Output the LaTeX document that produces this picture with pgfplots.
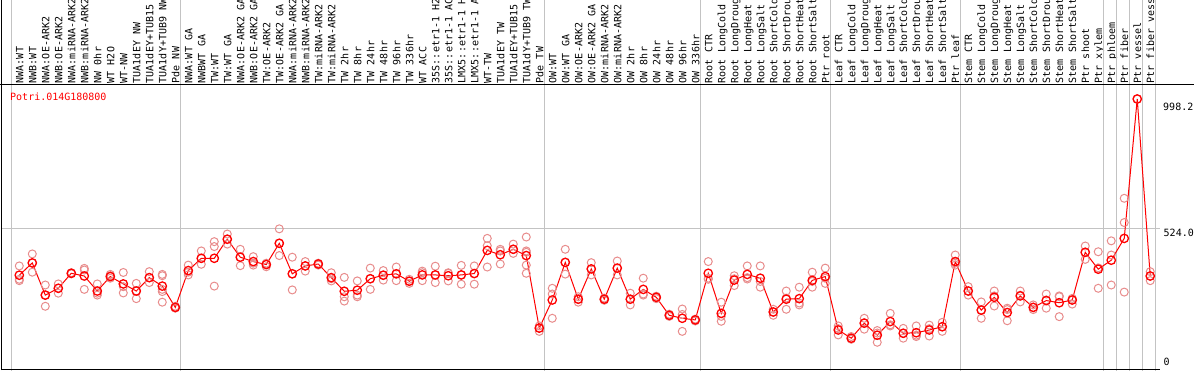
\documentclass[border=0pt]{standalone}
\usepackage{pgfplots}
\pgfplotsset{compat=1.18}
\usepackage{fontspec}
\newfontfamily\mono{DejaVu Sans Mono}
\definecolor{rep}{RGB}{232,140,140}
\definecolor{gridc}{RGB}{195,195,195}
\begin{document}
\begin{tikzpicture}[x=1bp,y=1bp]
\useasboundingbox (0,0) rectangle (1194,370);
\clip (0,0) rectangle (1194,370);
\begin{axis}[
  scale only axis, width=1158.5bp, height=284.3bp,
  at={(1.5bp,1bp)}, anchor=south west,
  xmin=-0.369, xmax=88.75, ymin=8, ymax=1050.6,
  axis line style={draw=none},
  clip=false,
  xtick={1,...,88},
  xticklabels={{NWA:WT},{NWB:WT},{NWA:OE-ARK2},{NWB:OE-ARK2},{NWA:miRNA-ARK2},{NWB:miRNA-ARK2},{NW 0hr},{WT H2O},{WT-NW},{TUA1dEY NW},{TUA1dEY+TUB15 NW},{TUA1dY+TUB9 NW},{Pde NW},
  {NWA:WT GA},{NWBWT GA},{TW:WT},{TW:WT GA},{NWA:OE-ARK2 GA},{NWB:OE-ARK2 GA},{TW:OE-ARK2},{TW:OE-ARK2 GA},{NWA:miRNA-ARK2},{NWB:miRNA-ARK2},{TW:miRNA-ARK2},{TW:miRNA-ARK2},{TW 2hr},{TW 8hr},{TW 24hr},{TW 48hr},{TW 96hr},{TW 336hr},{WT ACC},{35S::etr1-1 H2O},{35S::etr1-1 ACC},{LMX5::etr1-1 H2O},{LMX5::etr1-1 ACC},{WT-TW},{TUA1dEY TW},{TUA1dEY+TUB15 TW},{TUA1dY+TUB9 TW},{Pde TW},
  {OW:WT},{OW:WT GA},{OW:OE-ARK2},{OW:OE-ARK2 GA},{OW:miRNA-ARK2},{OW:miRNA-ARK2},{OW 2hr},{OW 8hr},{OW 24hr},{OW 48hr},{OW 96hr},{OW 336hr},
  {Root CTR},{Root LongCold},{Root LongDrought},{Root LongHeat},{Root LongSalt},{Root ShortCold},{Root ShortDrought},{Root ShortHeat},{Root ShortSalt},{Ptr root},
  {Leaf CTR},{Leaf LongCold},{Leaf LongDrought},{Leaf LongHeat},{Leaf LongSalt},{Leaf ShortCold},{Leaf ShortDrought},{Leaf ShortHeat},{Leaf ShortSalt},{Ptr leaf},
  {Stem CTR},{Stem LongCold},{Stem LongDrought},{Stem LongHeat},{Stem LongSalt},{Stem ShortCold},{Stem ShortDrought},{Stem ShortHeat},{Stem ShortSalt},{Ptr shoot},{Ptr xylem},{Ptr phloem},{Ptr fiber},{Ptr vessel},{Ptr fiber vessel}},
  xticklabel pos=right,
  xticklabel style={rotate=90, anchor=west, inner sep=0pt, text height=8bp, text depth=0pt, font=\mono\fontsize{10bp}{12bp}\selectfont},
  xticklabel shift=1.4bp,
  major tick length=0pt,
  ytick={524}, yticklabels={}, ymajorgrids,
  grid style={gridc, line width=1bp},
]
\pgfplotsinvokeforeach{0.37,13.37,41.37,53.37,63.37,73.37,84.37,85.37,86.37,87.37,88.37}{
  \draw[gridc, line width=1bp] (axis cs:#1,0) -- (axis cs:#1,1450);
}
% replicates
\addplot[only marks, mark=o, mark size=4bp, rep, line width=1bp] coordinates {
(1,386)(1,337)(1,332)(2,430)(2,397)(2,363)(3,316)(3,279)(3,238)(4,320)(4,304)(4,286)
(5,361)(5,357)(5,359)(6,377)(6,371)(6,300)(7,320)(7,286)(7,279)(8,355)(8,350)(8,341)
(9,362)(9,310)(9,287)(10,322)(10,294)(10,266)(11,365)(11,343)(11,325)
(12,355)(12,350)(12,300)(12,292)(12,253)(13,238)(13,234)(13,231)
(14,389)(14,363)(14,353)(15,441)(15,414)(15,392)(16,475)(16,457)(16,312)
(17,503)(17,484)(17,466)(18,447)(18,418)(18,387)(19,420)(19,396)(19,389)
(20,396)(20,393)(20,383)(21,522)(21,469)(21,424)(22,418)(22,357)(22,298)
(23,402)(23,386)(23,367)(24,396)(24,393)(24,389)(25,361)(25,339)(25,331)
(26,344)(26,273)(26,257)(27,331)(27,279)(27,273)(28,378)(28,339)(28,300)
(29,369)(29,352)(29,334)(30,382)(30,357)(30,332)(31,337)(31,330)(31,322)
(32,367)(32,361)(32,332)(33,385)(33,353)(33,325)(34,361)(34,359)(34,331)
(35,388)(35,353)(35,319)(36,386)(36,358)(36,319)(37,487)(37,460)(37,382)
(38,447)(38,441)(38,393)(39,466)(39,447)(39,432)
(40,492)(40,441)(40,436)(40,389)(40,359)(41,166)(41,158)(41,146)
(42,304)(42,283)(42,194)(43,447)(43,399)(43,356)(44,273)(44,264)(44,253)
(45,398)(45,375)(45,353)(46,268)(46,264)(46,260)(47,404)(47,378)(47,353)
(48,286)(48,264)(48,243)(49,341)(49,283)(49,279)(50,275)(50,271)(50,266)
(51,209)(51,205)(51,201)(52,228)(52,208)(52,146)(53,191)(53,188)(53,184)
(54,402)(54,341)(54,337)(55,253)(55,201)(55,183)(56,350)(56,339)(56,314)
(57,386)(57,343)(57,338)(58,386)(58,329)(58,308)(59,227)(59,217)(59,205)
(60,294)(60,268)(60,227)(61,308)(61,250)(61,243)(62,363)(62,329)(62,308)
(63,378)(63,341)(63,322)(64,166)(64,156)(64,133)(65,127)(65,120)(65,117)
(66,194)(66,178)(66,154)(67,149)(67,140)(67,106)(68,212)(68,170)(68,166)
(69,157)(69,139)(69,121)(70,166)(70,132)(70,127)(71,169)(71,156)(71,129)
(72,179)(72,163)(72,146)(73,426)(73,396)(73,389)(74,310)(74,294)(74,279)
(75,254)(75,224)(75,194)(76,294)(76,276)(76,239)(77,231)(77,226)(77,185)
(78,294)(78,279)(78,254)(79,243)(79,234)(79,226)(80,283)(80,261)(80,231)
(81,276)(81,273)(81,200)(82,267)(82,261)(82,246)(83,459)(83,436)(83,410)
(84,438)(84,379)(84,304)(85,478)(85,426)(85,316)(86,634)(86,545)(86,290)
(87,998.2)(88,365)(88,349)(88,332)
};
% means
\addplot[red, line width=1bp, mark=o, mark size=4.2bp, mark options={line width=1.3bp}] coordinates {
(1,352)(2,397)(3,279)(4,304)(5,359)(6,349)(7,294)(8,347)(9,320)(10,294)(11,343)(12,312)(13,234)
(14,369)(15,414)(16,414)(17,484)(18,418)(19,402)(20,391)(21,469)(22,357)(23,386)(24,393)(25,343)
(26,293)(27,297)(28,339)(29,352)(30,357)(31,330)(32,353)(33,353)(34,350)(35,353)(36,358)
(37,443)(38,427)(39,447)(40,424)(41,158)
(42,261)(43,399)(44,264)(45,375)(46,264)(47,378)(48,264)(49,300)(50,271)(51,205)(52,194)(53,188)
(54,359)(55,212)(56,334)(57,355)(58,341)(59,217)(60,264)(61,266)(62,333)(63,347)
(64,151)(65,121)(66,176)(67,132)(68,182)(69,139)(70,141)(71,151)(72,163)(73,402)
(74,294)(75,224)(76,271)(77,215)(78,276)(79,234)(80,259)(81,251)(82,261)
(83,436)(84,374)(85,407)(86,487)(87,998.2)(88,349)
};
\end{axis}
\draw[black, line width=1.2bp] (1.5,0) -- (1.5,370);
\draw[black, line width=1.2bp] (0,285.3) -- (1194,285.3);
\draw[black, line width=1.2bp] (1.5,0.6) -- (1160,0.6);
\node[anchor=base west, inner sep=0pt, text=red, font=\mono\fontsize{10bp}{12bp}\selectfont] at (10,269.3) {Potri.014G180800};
\node[anchor=base west, inner sep=0pt, font=\mono\fontsize{10bp}{12bp}\selectfont] at (1163,259.3) {998.2};
\node[anchor=base west, inner sep=0pt, font=\mono\fontsize{10bp}{12bp}\selectfont] at (1163.5,133.3) {524.0};
\node[anchor=base west, inner sep=0pt, font=\mono\fontsize{10bp}{12bp}\selectfont] at (1163.5,4.3) {0};
\end{tikzpicture}
\end{document}
